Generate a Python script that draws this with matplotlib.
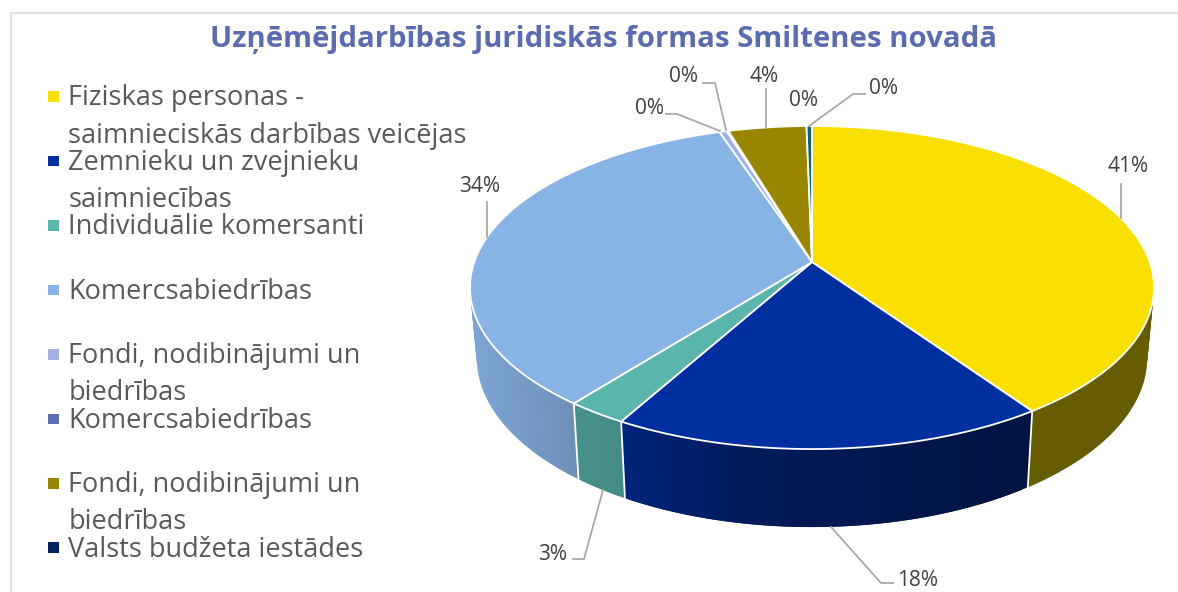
import numpy as np
import matplotlib
matplotlib.use("Agg")
import matplotlib.pyplot as plt
from matplotlib.patches import Polygon, Rectangle

plt.rcParams['font.family'] = ['Open Sans', 'Noto Sans', 'DejaVu Sans']

title = "Uzņēmējdarbības juridiskās formas Smiltenes novadā"
categories = ["Fiziskas personas -\nsaimnieciskās darbības veicējas",
              "Zemnieku un zvejnieku\nsaimniecības",
              "Individuālie komersanti",
              "Komercsabiedrības",
              "Fondi, nodibinājumi un\nbiedrības",
              "Komercsabiedrības",
              "Fondi, nodibinājumi un\nbiedrības",
              "Valsts budžeta iestādes"]
values = [40.4, 17.7, 2.5, 34.3, 0.4, 0.1, 4.3, 0.3]
value_labels = ["41%", "18%", "3%", "34%", "0%", "0%", "4%", "0%"]
top_colors = ["#FAE000", "#002F9F", "#5AB6AB", "#88B3E5", "#A0B0E6", "#5E6FB0", "#988500", "#14626A"]
legend_colors = ["#FAE000", "#002F9F", "#5AB6AB", "#88B3E5", "#A0B0E6", "#5E6FB0", "#988500", "#002060"]

# label anchor and leader-line layout, same order as values (pixels of the reference)
label_pos = [(1128, 167), (918, 581), (553, 554), (480, 187), (649, 109), (684, 77), (764, 77), (883, 89)]
leaders = [[(1121, 218), (1121, 184)],
           [(831, 527), (881, 583), (893, 583)],
           [(603, 490), (584, 559), (573, 559)],
           [(487, 237), (487, 202)],
           [(720, 131), (677, 114), (666, 114)],
           [(726, 130), (715, 83), (703, 83)],
           [(766, 127), (766, 89)],
           [(809, 126), (853, 94), (865, 94)]]
extra_label = ("0%", (804, 101))

# perspective projection of the pie disc
CX, CY, A, B, K = 812.0, 262.0, 337.7, 116.1, 0.158
DEPTH, X_SHRINK = 78.0, 0.98


def top_xy(theta):
    px, py = np.sin(theta), np.cos(theta)
    w = 1 + K * py
    return CX + A * px / w, (CY - B * py) / w


def bottom_xy(theta):
    X, Y = top_xy(theta)
    return CX + (X - CX) * X_SHRINK, Y + DEPTH - 0.05 * (449 - Y)


def shade(color, x):
    f = np.interp(x, [475, 575, 625, 760, 1027, 1150], [0.92, 0.80, 0.76, 0.56, 0.41, 0.41])
    return tuple(c * f for c in matplotlib.colors.to_rgb(color))


fig = plt.figure(figsize=(11.78, 5.92), dpi=100, facecolor="white")
ax = fig.add_axes([0, 0, 1, 1])
ax.set_xlim(0, 1178)
ax.set_ylim(592, 0)
ax.axis("off")

# chart frame
ax.plot([10.5, 10.5, 1178], [592, 13, 13], color="#D9D9D9", lw=1.1, zorder=1)

ax.text(603, 47, title, ha="center", va="baseline", fontsize=21.15,
        fontweight="bold", color="#5B6BB0")

edges = np.radians(np.concatenate([[0], np.cumsum(values)]) * 3.6)

# side wall: each strip runs under the next one so no seams show
for i, col in enumerate(top_colors):
    a0, a1 = edges[i], edges[i + 1]
    n = max(2, int(np.degrees(a1 - a0)) + 1)
    th = np.linspace(a0, a1, n + 1)
    for k in range(n):
        t0, t1 = th[k], th[min(k + 2, n)]
        if np.cos((th[k] + th[k + 1]) / 2) > 0.25:
            continue
        ts = np.linspace(t0, t1, 4)
        xt, yt = top_xy(ts)
        xb, yb = bottom_xy(ts)
        c = shade(col, (top_xy(th[k])[0] + top_xy(th[k + 1])[0]) / 2)
        pts = list(zip(xt, yt)) + list(zip(xb[::-1], yb[::-1]))
        ax.add_patch(Polygon(pts, closed=True, facecolor=c, edgecolor="none", zorder=2))
for e in edges:
    if np.cos(e) < 0:
        xt, yt = top_xy(e)
        xb, yb = bottom_xy(e)
        ax.plot([xt, xb], [yt, yb], color="white", lw=1.3, zorder=3)

# top face
for i, col in enumerate(top_colors):
    th = np.linspace(edges[i], edges[i + 1], max(3, int(np.degrees(edges[i + 1] - edges[i])) * 2 + 2))
    xs, ys = top_xy(th)
    pts = [(CX, CY)] + list(zip(xs, ys))
    ax.add_patch(Polygon(pts, closed=True, facecolor=col, edgecolor="white", lw=1.3,
                         joinstyle="round", zorder=4))

# leaders and value labels
for path in leaders:
    px, py = zip(*path)
    ax.plot(px, py, color="#A6A6A6", lw=1.25, zorder=5, solid_joinstyle="miter")
for lab, (x, y) in zip(value_labels, label_pos):
    ax.text(x, y, lab, ha="center", va="center", fontsize=15, color="#404040", zorder=6)
ax.text(extra_label[1][0], extra_label[1][1], extra_label[0], ha="center", va="center",
        fontsize=15, color="#404040", zorder=6)

# legend
for i, (cat, col) in enumerate(zip(categories, legend_colors)):
    yc = 96.5 + 64.45 * i
    ax.add_patch(Rectangle((48, yc - 5.2), 10.5, 10.5, facecolor=col, edgecolor="none", zorder=6))
    for j, line in enumerate(cat.split("\n")):
        ax.text(68.5, yc + 9 + 37 * j, line, ha="left", va="baseline", fontsize=19.5,
                color="#595959", zorder=6)

fig.savefig("out.png", dpi=100, facecolor="white")
